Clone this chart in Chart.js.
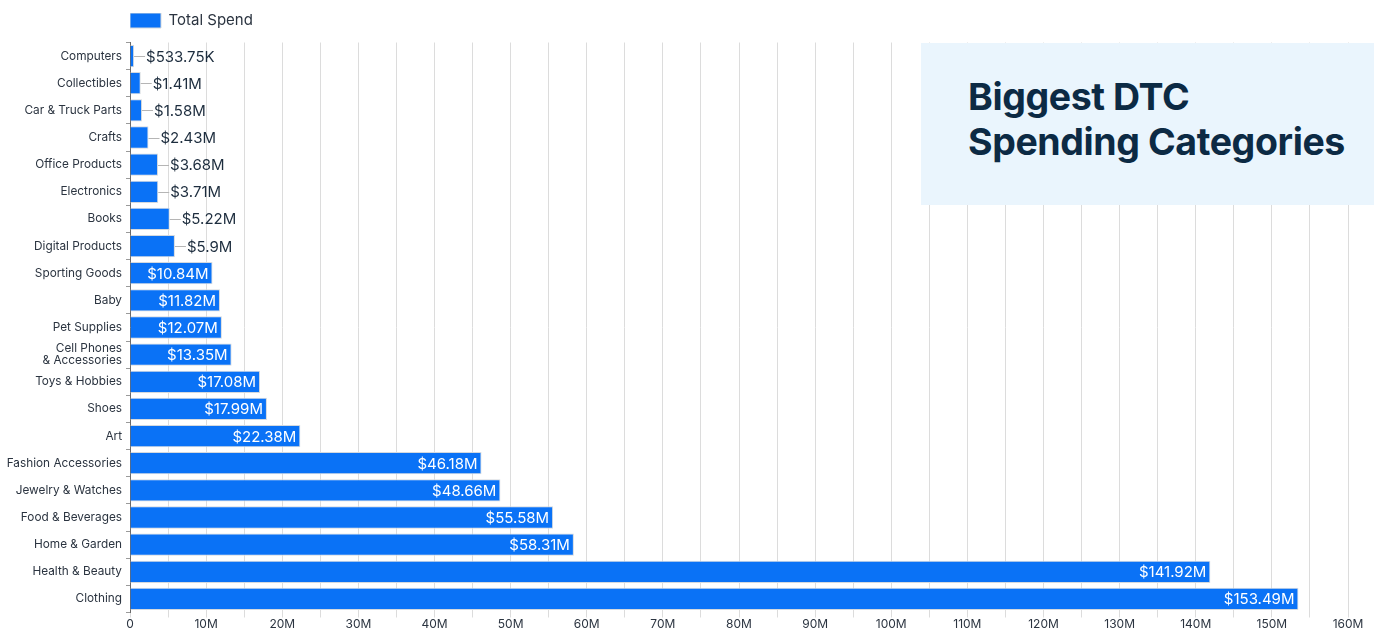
<!DOCTYPE html>
<html>
<head>
<meta charset="utf-8">
<script src="https://cdn.jsdelivr.net/npm/chart.js@4.4.1/dist/chart.umd.min.js"></script>
<style>
  html, body { margin: 0; padding: 0; background: #ffffff; }
  #wrap { position: relative; width: 1374px; height: 631px; }
  #c { position: absolute; left: 0; top: 0; }
  #titleBox {
    position: absolute; left: 921px; top: 43px; width: 453px; height: 162px;
    background: #eaf5fd; box-sizing: border-box; padding: 31px 0 0 47px;
    font-family: Inter, "Noto Sans", sans-serif; font-weight: 700;
    font-size: 37.5px; line-height: 45px; color: #0c2a44; letter-spacing: -0.4px;
  }
</style>
</head>
<body>
<div id="wrap">
  <canvas id="c" width="1374" height="631"></canvas>
  <div id="titleBox">Biggest DTC<br>Spending Categories</div>
</div>
<script>
const categories = [
  "Computers", "Collectibles", "Car & Truck Parts", "Crafts", "Office Products",
  "Electronics", "Books", "Digital Products", "Sporting Goods", "Baby",
  "Pet Supplies", ["Cell Phones", "& Accessories"], "Toys & Hobbies", "Shoes", "Art",
  "Fashion Accessories", "Jewelry & Watches", "Food & Beverages", "Home & Garden",
  "Health & Beauty", "Clothing"
];
const totalSpend = [
  533750, 1410000, 1580000, 2430000, 3680000,
  3710000, 5220000, 5900000, 10840000, 11820000,
  12070000, 13350000, 17080000, 17990000, 22380000,
  46180000, 48660000, 55580000, 58310000,
  141920000, 153490000
];
const seriesName = "Total Spend";
const xTickStep = 5000000;
const xMax = 160000000;

function fmtMoney(v) {
  if (v >= 1e6) return "$" + (Math.round(v / 1e4) / 100) + "M";
  return "$" + (Math.round(v / 10) / 100) + "K";
}
function fmtTick(v) {
  if (v % 10000000 !== 0) return "";
  return v === 0 ? "0" : (v / 1e6) + "M";
}

const FONT = "Inter, 'Noto Sans', sans-serif";

const valueLabels = {
  id: "valueLabels",
  afterDatasetsDraw(chart) {
    const ctx = chart.ctx;
    const meta = chart.getDatasetMeta(0);
    const data = chart.data.datasets[0].data;
    ctx.save();
    ctx.font = "15px " + FONT;
    ctx.textBaseline = "middle";
    meta.data.forEach((bar, i) => {
      const v = data[i];
      const txt = fmtMoney(v);
      if (v >= 10000000) {
        ctx.fillStyle = "#ffffff";
        ctx.textAlign = "right";
        ctx.fillText(txt, bar.x - 4, bar.y + 1);
      } else {
        ctx.strokeStyle = "#b5b5b5";
        ctx.lineWidth = 1;
        ctx.beginPath();
        ctx.moveTo(bar.x, Math.round(bar.y) + 0.5);
        ctx.lineTo(bar.x + 11, Math.round(bar.y) + 0.5);
        ctx.stroke();
        ctx.fillStyle = "#1d2d3e";
        ctx.textAlign = "left";
        ctx.fillText(txt, bar.x + 12, bar.y + 1);
      }
    });
    ctx.restore();
  }
};

const legendSpacer = {
  id: "legendSpacer",
  beforeUpdate(chart) {
    const lg = chart.legend;
    if (lg && !lg._patched) {
      const orig = lg.fit;
      lg.fit = function () { orig.call(this); this.height += 4.5; };
      lg._patched = true;
    }
  }
};

new Chart(document.getElementById("c"), {
  type: "bar",
  data: {
    labels: categories,
    datasets: [{
      label: seriesName,
      data: totalSpend,
      backgroundColor: "#0a72f6",
      borderColor: "#d4d9de",
      borderWidth: 1,
      categoryPercentage: 0.82,
      barPercentage: 1.0
    }]
  },
  options: {
    indexAxis: "y",
    responsive: false,
    animation: false,
    layout: { padding: { top: 13, right: 26, bottom: 0, left: 0 } },
    plugins: {
      legend: {
        display: true,
        position: "top",
        align: "start",
        fullSize: false,
        labels: {
          boxWidth: 31, boxHeight: 15, padding: 0,
          color: "#2b3440",
          font: { family: FONT, size: 15 }
        }
      },
      tooltip: { enabled: false }
    },
    scales: {
      x: {
        min: 0, max: xMax,
        afterFit(scale) { scale.height = 18.5; },
        border: { display: false },
        grid: { color: "#dcdcdc", lineWidth: 1, tickLength: 5, drawTicks: true },
        ticks: {
          stepSize: xTickStep, autoSkip: false, maxRotation: 0, padding: 0,
          color: "#2b3440", font: { family: FONT, size: 12 },
          callback: (v) => fmtTick(v)
        }
      },
      y: {
        afterFit(scale) { scale.width = 130; },
        border: { display: true, color: "#6b6b6b", width: 1 },
        grid: { drawOnChartArea: false, drawTicks: true, tickLength: 4, color: "#9a9a9a" },
        ticks: {
          padding: 4, autoSkip: false,
          color: "#2b3440", font: { family: FONT, size: 11.8, lineHeight: 1.0 }
        }
      }
    }
  },
  plugins: [valueLabels, legendSpacer]
});
</script>
</body>
</html>
